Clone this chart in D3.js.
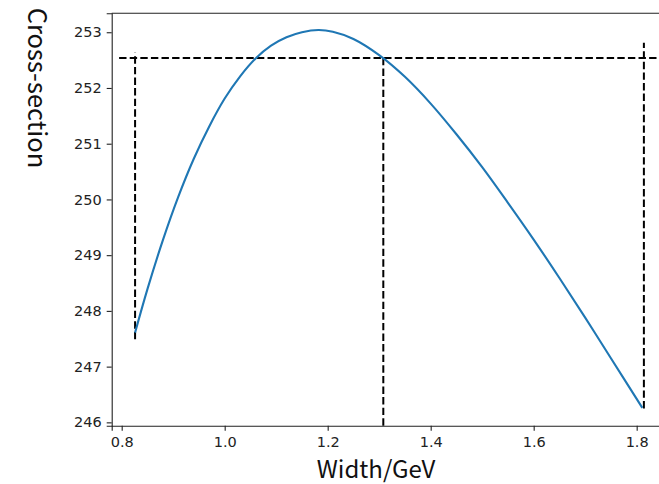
<!DOCTYPE html>
<html>
<head>
  <script src="https://d3js.org/d3.v7.min.js"></script>
  <style>
    body { margin: 0; background: white; }
    .tick text { font-family: "DejaVu Sans", sans-serif; font-size: 14.5px; fill: #222; }
    .lbl { font-family: "Noto Sans CJK SC", sans-serif; fill: #111; }
  </style>
</head>
<body>
  <svg id="chart" width="659" height="484"></svg>
  <script>
    // curve (smoothed by eye)
    const widths = [0.826, 0.85, 0.88, 0.91, 0.94, 0.97, 1.00, 1.03, 1.06, 1.09, 1.12, 1.15, 1.182,
                    1.21, 1.25, 1.30, 1.35, 1.40, 1.45, 1.50, 1.55, 1.60, 1.65, 1.70, 1.75, 1.811];
    const crossSections = [247.61, 248.39, 249.27, 250.05, 250.73, 251.31, 251.81, 252.21, 252.53, 252.76, 252.91, 253.00, 253.04,
                           253.01, 252.88, 252.59, 252.20, 251.72, 251.17, 250.58, 249.94, 249.28, 248.59, 247.88, 247.15, 246.26];

    // dashed guide lines
    const hGuideY = 252.54;
    const hGuideX = [0.795, 1.87];
    const vGuideX = [0.826, 1.308, 1.814];
    const vGuideLow = [247.49, 245.94, 246.25];
    const vGuideHigh = [252.63, 252.54, 252.81];

    const xTicks = [0.8, 1.0, 1.2, 1.4, 1.6, 1.8];
    const yTicks = [246, 247, 248, 249, 250, 251, 252, 253];

    let svg = d3.select('svg#chart');
    const marginLeft = 111.7, marginTop = 13.3, plotW = 556.6, plotH = 412.4;

    let x = d3.scaleLinear().domain([0.7806, 1.8614]).range([marginLeft, marginLeft + plotW]);
    let y = d3.scaleLinear().domain([245.94, 253.34]).range([marginTop + plotH, marginTop]);

    // guides
    let guides = svg.append('g')
      .attr('stroke', 'black')
      .attr('stroke-width', 2)
      .attr('stroke-dasharray', '7.4,3.2')
      .attr('fill', 'none');
    guides.append('line')
      .attr('x1', x(hGuideX[0])).attr('x2', x(hGuideX[1]))
      .attr('y1', y(hGuideY)).attr('y2', y(hGuideY));
    guides.selectAll('line.v')
      .data(vGuideX)
      .join('line')
      .attr('class', 'v')
      .attr('x1', d => x(d)).attr('x2', d => x(d))
      .attr('y1', (d, i) => y(vGuideLow[i]))
      .attr('y2', (d, i) => y(vGuideHigh[i]));

    // curve
    let line = d3.line()
      .x(d => x(d[0]))
      .y(d => y(d[1]))
      .curve(d3.curveCatmullRom.alpha(0.5));
    svg.append('path')
      .datum(widths.map((w, i) => [w, crossSections[i]]))
      .attr('d', line)
      .attr('fill', 'none')
      .attr('stroke', '#1f77b4')
      .attr('stroke-width', 2.1);

    // axes
    svg.append('g')
      .attr('transform', `translate(0,${marginTop + plotH})`)
      .call(d3.axisBottom(x).tickValues(xTicks).tickFormat(d3.format('.1f')).tickSizeOuter(0).tickSize(5).tickPadding(6));
    svg.append('g')
      .attr('transform', `translate(${marginLeft},0)`)
      .call(d3.axisLeft(y).tickValues(yTicks).tickFormat(d3.format('d')).tickSizeOuter(0).tickSize(5).tickPadding(5));
    svg.selectAll('.domain').attr('stroke', '#222').attr('stroke-width', 1.1);
    svg.selectAll('.tick line').attr('stroke', '#222').attr('stroke-width', 1.1);

    // top spine
    svg.append('line')
      .attr('x1', marginLeft).attr('x2', marginLeft + plotW)
      .attr('y1', marginTop).attr('y2', marginTop)
      .attr('stroke', '#222').attr('stroke-width', 1.1);

    // labels
    svg.append('text')
      .attr('class', 'lbl')
      .attr('x', 376).attr('y', 478)
      .attr('text-anchor', 'middle')
      .style('font-size', '24px')
      .text('Width/GeV');
    svg.append('text')
      .attr('class', 'lbl')
      .attr('transform', 'translate(28,88) rotate(90)')
      .attr('text-anchor', 'middle')
      .style('font-size', '25.5px')
      .text('Cross-section');
  </script>
</body>
</html>
